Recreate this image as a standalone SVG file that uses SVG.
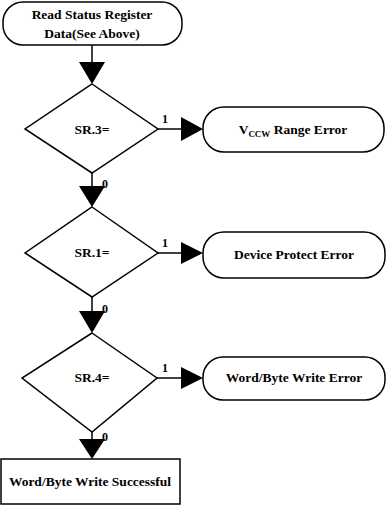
<svg xmlns="http://www.w3.org/2000/svg" width="389" height="506" viewBox="0 0 389 506">
<style>
.s{fill:#fff;stroke:#000;stroke-width:1.5}
.l{fill:none;stroke:#000;stroke-width:1.5}
.t{font-family:"Liberation Serif","Times New Roman",serif;font-size:13.5px;font-weight:bold;fill:#000;text-anchor:middle}
.a{fill:#000;stroke:none}
.n{font-family:"Liberation Serif","Times New Roman",serif;font-size:12px;font-weight:bold;fill:#000}
</style>
<g id="connectors">
<line class="l" x1="92" y1="45" x2="92" y2="62"/>
<polygon class="a" points="79,62 105,62 92,84"/>
<line class="l" x1="158" y1="129" x2="182" y2="129"/>
<polygon class="a" points="181,117 181,141 203,129"/>
<text class="n" x="162" y="123">1</text>
<line class="l" x1="92" y1="173" x2="92" y2="186"/>
<polygon class="a" points="79,186 105,186 92,207"/>
<text class="n" x="102" y="188">0</text>
<line class="l" x1="158" y1="253" x2="182" y2="253"/>
<polygon class="a" points="181,242 181,264 203,253"/>
<text class="n" x="162" y="247">1</text>
<line class="l" x1="92" y1="297" x2="92" y2="311"/>
<polygon class="a" points="79,311 105,311 92,333"/>
<text class="n" x="102" y="313">0</text>
<line class="l" x1="157" y1="378" x2="182" y2="378"/>
<polygon class="a" points="181,367 181,389 203,378"/>
<text class="n" x="162" y="372">1</text>
<line class="l" x1="92" y1="432" x2="92" y2="439"/>
<polygon class="a" points="79,439 105,439 92,459"/>
<text class="n" x="102" y="441">0</text>
</g>
<g id="start">
<rect class="s" x="3" y="2" width="179" height="43" rx="20"/>
<text class="t" x="92" y="19">Read Status Register</text>
<text class="t" x="92" y="38">Data(See Above)</text>
</g>
<g id="d1">
<polygon class="s" points="92,84 158,129 92,173 25,129"/>
<text class="t" x="92" y="134">SR.3=</text>
</g>
<g id="e1">
<rect class="s" x="203" y="107" width="181" height="45" rx="21"/>
<text class="t" x="293" y="134">V<tspan font-size="9" dy="3">CCW</tspan><tspan dy="-3"> Range Error</tspan></text>
</g>
<g id="d2">
<polygon class="s" points="92,207 158,253 92,297 25,253"/>
<text class="t" x="92" y="257">SR.1=</text>
</g>
<g id="e2">
<rect class="s" x="203" y="232" width="182" height="46" rx="21"/>
<text class="t" x="294" y="259">Device Protect Error</text>
</g>
<g id="d3">
<polygon class="s" points="92,333 157,378 92,432 22,378"/>
<text class="t" x="92" y="382">SR.4=</text>
</g>
<g id="e3">
<rect class="s" x="203" y="357" width="182" height="43" rx="20"/>
<text class="t" x="294" y="382">Word/Byte Write Error</text>
</g>
<g id="done">
<rect class="s" x="1" y="459" width="179" height="45"/>
<text class="t" x="90" y="486">Word/Byte Write Successful</text>
</g>
</svg>
